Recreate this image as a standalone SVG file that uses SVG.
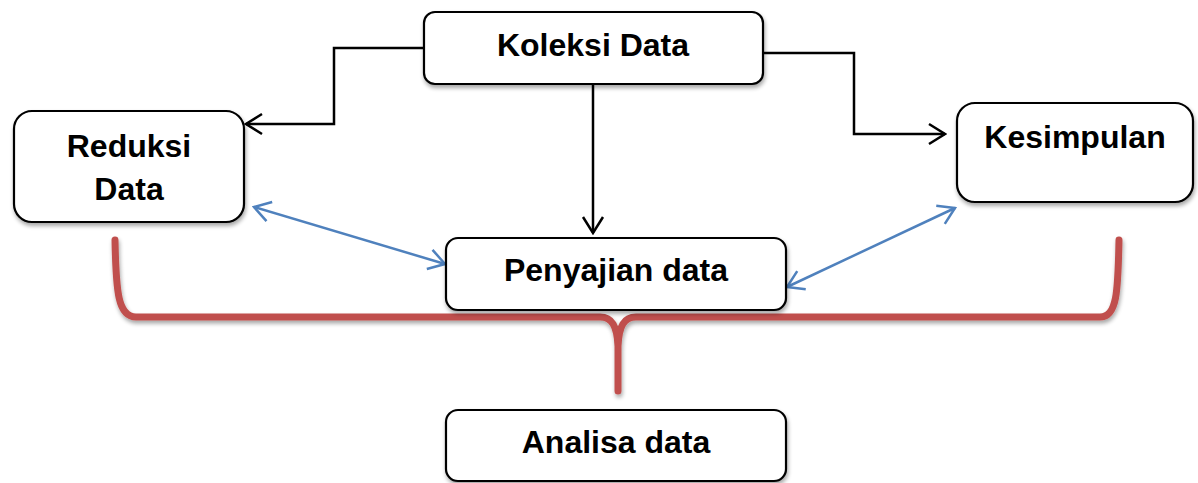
<svg xmlns="http://www.w3.org/2000/svg" width="1198" height="483" viewBox="0 0 1198 483">
  <style>
    .box { fill: #ffffff; stroke: #000000; stroke-width: 2.2; filter: url(#shadow); }
    .label { font-family: "Liberation Sans", Arial, sans-serif; font-weight: bold; font-size: 32px; fill: #000000; text-anchor: middle; }
    .flow { fill: none; stroke: #000000; stroke-width: 2.5; }
    .link { fill: none; stroke: #4F81BD; stroke-width: 2.5; }
    .brace { fill: none; stroke: #C0504D; stroke-width: 7; stroke-linecap: round; stroke-linejoin: round; filter: url(#shadow); }
  </style>
  <defs>
    <filter id="shadow" x="-10%" y="-10%" width="130%" height="140%">
      <feGaussianBlur in="SourceAlpha" stdDeviation="2"/>
      <feOffset dx="1" dy="3" result="off"/>
      <feComponentTransfer><feFuncA type="linear" slope="0.35"/></feComponentTransfer>
      <feMerge><feMergeNode/><feMergeNode in="SourceGraphic"/></feMerge>
    </filter>
    <marker id="openBlack" viewBox="0 0 20 24" refX="18" refY="12" markerWidth="20" markerHeight="24" markerUnits="userSpaceOnUse" orient="auto">
      <path d="M2 2 L18 12 L2 22" fill="none" stroke="#000000" stroke-width="2.5"/>
    </marker>
    <marker id="openBlue" viewBox="0 0 20 24" refX="18" refY="12" markerWidth="20" markerHeight="24" markerUnits="userSpaceOnUse" orient="auto-start-reverse">
      <path d="M2 2 L18 12 L2 22" fill="none" stroke="#4F81BD" stroke-width="2.5"/>
    </marker>
  </defs>

  <!-- grouping brace under the three stages -->
  <path class="brace" d="M115 240 C116 292 118 317 136 317 L600 317 C612 317 617 326 618 346 L618 391 M618 346 C619 326 624 317 636 317 L1100 317 C1117 317 1118 292 1119 240"/>

  <g id="connectors">
    <polyline class="flow" points="424,48 334,48 334,124 246,124" marker-end="url(#openBlack)"/>
    <polyline class="flow" points="763,53 854,53 854,134 945,134" marker-end="url(#openBlack)"/>
    <line class="flow" x1="593" y1="84" x2="593" y2="233" marker-end="url(#openBlack)"/>
    <line class="link" x1="254" y1="207" x2="445" y2="264" marker-start="url(#openBlue)" marker-end="url(#openBlue)"/>
    <line class="link" x1="787" y1="287" x2="955" y2="208" marker-start="url(#openBlue)" marker-end="url(#openBlue)"/>
  </g>

  <g id="koleksi">
    <rect class="box" x="424" y="12" width="339" height="72" rx="11"/>
    <text class="label" x="593" y="56">Koleksi Data</text>
  </g>
  <g id="reduksi">
    <rect class="box" x="14" y="111" width="230" height="111" rx="18"/>
    <text class="label" x="129" y="157">Reduksi</text>
    <text class="label" x="129" y="200">Data</text>
  </g>
  <g id="kesimpulan">
    <rect class="box" x="957" y="103" width="236" height="99" rx="18"/>
    <text class="label" x="1075" y="148">Kesimpulan</text>
  </g>
  <g id="penyajian">
    <rect class="box" x="446" y="238" width="340" height="72" rx="12"/>
    <text class="label" x="616" y="281">Penyajian data</text>
  </g>
  <g id="analisa">
    <rect class="box" x="446" y="410" width="340" height="71" rx="12"/>
    <text class="label" x="616" y="453">Analisa data</text>
  </g>
</svg>
